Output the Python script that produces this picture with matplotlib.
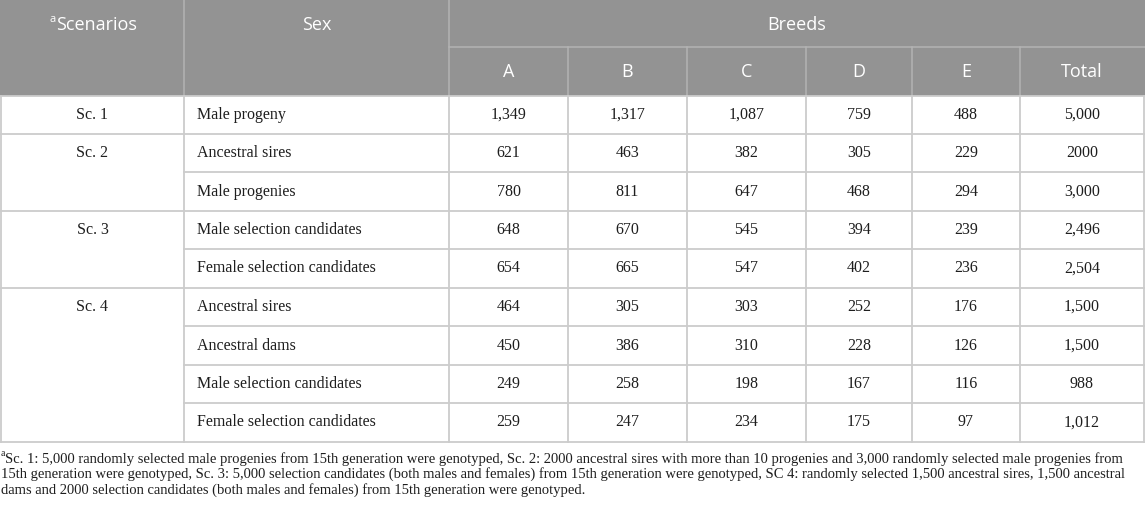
import matplotlib.pyplot as plt
from matplotlib.patches import Rectangle

# table content
scenarios = ['Sc. 1', 'Sc. 2', 'Sc. 3', 'Sc. 4']
group_sizes = [1, 2, 2, 4]
sex = ['Male progeny', 'Ancestral sires', 'Male progenies',
       'Male selection candidates', 'Female selection candidates',
       'Ancestral sires', 'Ancestral dams',
       'Male selection candidates', 'Female selection candidates']
breeds = ['A', 'B', 'C', 'D', 'E']
breed_a = [1349, 621, 780, 648, 654, 464, 450, 249, 259]
breed_b = [1317, 463, 811, 670, 665, 305, 386, 258, 247]
breed_c = [1087, 382, 647, 545, 547, 303, 310, 198, 234]
breed_d = [759, 305, 468, 394, 402, 252, 228, 167, 175]
breed_e = [488, 229, 294, 239, 236, 176, 126, 116, 97]
totals = ['5,000', '2000', '3,000', '2,496', '2,504', '1,500', '1,500', '988', '1,012']
footnote = [
    'Sc. 1: 5,000 randomly selected male progenies from 15th generation were genotyped, Sc. 2: 2000 ancestral sires '
    'with more than 10 progenies and 3,000 randomly selected male progenies from',
    '15th generation were genotyped, Sc. 3: 5,000 selection candidates (both males and females) from 15th generation '
    'were genotyped, SC 4: randomly selected 1,500 ancestral sires, 1,500 ancestral',
    'dams and 2000 selection candidates (both males and females) from 15th generation were genotyped.',
]

W, H = 1145, 508
col_x = [1, 184, 449, 568, 687, 806, 912, 1020, 1144]
row_y = [96, 134, 172, 211, 249, 288, 326, 365, 403, 442]
head_mid = 47
head_bg = '#939393'
head_line = '#b3b3b3'
body_line = '#cccccc'
txt = '#1e1e1e'
serif = 'Liberation Serif'
sans = 'Open Sans'

fig = plt.figure(figsize=(W / 100, H / 100), dpi=100)
ax = fig.add_axes([0, 0, 1, 1])
ax.set_xlim(0, W)
ax.set_ylim(H, 0)
ax.axis('off')

# header
ax.add_patch(Rectangle((0, 0), W, row_y[0], color=head_bg, lw=0))
ax.plot([col_x[1], col_x[1]], [0, row_y[0]], color=head_line, lw=1.1)
ax.plot([col_x[2], col_x[2]], [0, row_y[0]], color=head_line, lw=1.1)
ax.plot([col_x[2], W], [head_mid, head_mid], color=head_line, lw=1.1)
for x in col_x[3:-1]:
    ax.plot([x, x], [head_mid, row_y[0]], color=head_line, lw=1.1)

t = ax.text((col_x[0] + col_x[1]) / 2 + 4, 25, 'Scenarios', color='white',
            fontsize=13, family=sans, ha='center', va='center')
fig.canvas.draw()
bb = t.get_window_extent().transformed(ax.transData.inverted())
ax.text(bb.x0, 19, 'a', color='white', fontsize=8, family=sans, ha='right', va='center')
ax.text((col_x[1] + col_x[2]) / 2, 25, 'Sex', color='white', fontsize=13,
        family=sans, ha='center', va='center')
ax.text((col_x[2] + W) / 2, 25, 'Breeds', color='white', fontsize=13,
        family=sans, ha='center', va='center')
for i, lab in enumerate(breeds + ['Total']):
    ax.text((col_x[i + 2] + col_x[i + 3]) / 2, 72, lab, color='white',
            fontsize=13, family=sans, ha='center', va='center')

# body lines
ax.plot([0, W], [row_y[-1], row_y[-1]], color=body_line, lw=1.3)
start = 0
for g in group_sizes:
    ax.plot([0, W], [row_y[start], row_y[start]], color=body_line, lw=1.3)
    for k in range(1, g):
        y = row_y[start + k]
        ax.plot([col_x[1], W], [y, y], color=body_line, lw=1.3)
    start += g
for x in col_x:
    ax.plot([x, x], [row_y[0], row_y[-1]], color=body_line, lw=1.3)

# body text
start = 0
for name, g in zip(scenarios, group_sizes):
    yc = (row_y[start] + row_y[start + 1]) / 2
    ax.text((col_x[0] + col_x[1]) / 2, yc, name, fontsize=11.5, family=serif,
            ha='center', va='center', color=txt)
    start += g

columns = [breed_a, breed_b, breed_c, breed_d, breed_e]
for r in range(len(sex)):
    yc = (row_y[r] + row_y[r + 1]) / 2
    ax.text(col_x[1] + 13, yc, sex[r], fontsize=11.5, family=serif,
            ha='left', va='center', color=txt)
    for c, vals in enumerate(columns):
        ax.text((col_x[c + 2] + col_x[c + 3]) / 2, yc, f'{vals[r]:,}', fontsize=11.5,
                family=serif, ha='center', va='center', color=txt)
    ax.text((col_x[7] + col_x[8]) / 2, yc, totals[r], fontsize=11.5, family=serif,
            ha='center', va='center', color=txt)

# footnote
ax.text(1, 453, 'a', fontsize=7, family=serif, ha='left', va='center', color=txt)
for i, line in enumerate(footnote):
    ax.text(5 if i == 0 else 1, 459 + i * 15.5, line, fontsize=10.55, family=serif,
            ha='left', va='center', color=txt)

fig.savefig('out.png', dpi=100)
